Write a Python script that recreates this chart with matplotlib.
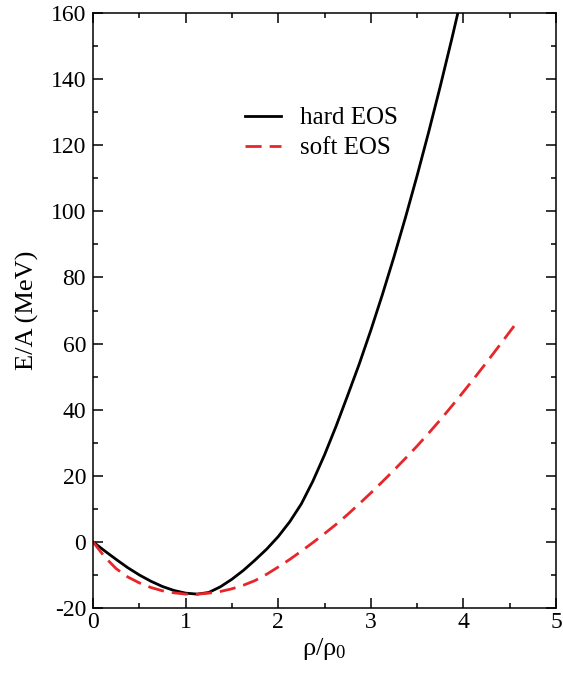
import matplotlib
matplotlib.use("Agg")
import matplotlib.pyplot as plt
from matplotlib.ticker import MultipleLocator

plt.rcParams['font.family'] = ['Liberation Serif', 'DejaVu Serif']
plt.rcParams['mathtext.default'] = 'regular'
plt.rcParams['axes.unicode_minus'] = False

# values
rho_hard = [0, 0.125, 0.25, 0.375, 0.5, 0.625, 0.75, 0.875, 1.0, 1.125,
            1.25, 1.375, 1.5, 1.625, 1.75, 1.875, 2.0, 2.125, 2.25, 2.375,
            2.5, 2.625, 2.75, 2.875, 3.0, 3.125, 3.25, 3.375, 3.5, 3.625,
            3.75, 3.875, 3.94]
e_hard = [0, -2.7, -5.3, -7.8, -10.0, -11.9, -13.5, -14.7, -15.5, -15.8,
          -15.3, -13.6, -11.3, -8.6, -5.5, -2.2, 1.6, 6.1, 11.5, 18.4,
          26.3, 35.0, 44.3, 53.8, 64.0, 74.8, 86.2, 98.2, 110.8, 124.0,
          137.8, 152.2, 160]

rho_soft = [0, 0.125, 0.25, 0.375, 0.5, 0.625, 0.75, 0.875, 1.0, 1.125,
            1.25, 1.375, 1.5, 1.625, 1.75, 1.875, 2.0, 2.125, 2.25, 2.375,
            2.5, 2.625, 2.75, 2.875, 3.0, 3.125, 3.25, 3.375, 3.5, 3.625,
            3.75, 3.875, 4.0, 4.125, 4.25, 4.375, 4.55]
e_soft = [0, -4.5, -8.1, -10.6, -12.4, -13.8, -14.8, -15.4, -15.8, -15.8,
          -15.5, -15.0, -14.2, -13.1, -11.7, -9.8, -7.6, -5.3, -2.8, -0.2,
          2.5, 5.3, 8.3, 11.5, 14.8, 18.2, 21.7, 25.3, 29.0, 32.9,
          36.9, 41.1, 45.4, 49.8, 54.3, 58.9, 65.4]

fig = plt.figure(figsize=(5.63, 6.77), dpi=100)
ax = fig.add_axes([93 / 563, 69 / 677, 463 / 563, 595 / 677])

ax.plot(rho_hard, e_hard, color='black', lw=2.0, label='hard EOS')
ax.plot(rho_soft, e_soft, color='#e8262a', lw=2.0, dashes=(5.8, 2.9),
        label='soft EOS')

ax.set_xlim(0, 5)
ax.set_ylim(-20, 160)
ax.xaxis.set_major_locator(MultipleLocator(1))
ax.xaxis.set_minor_locator(MultipleLocator(0.5))
ax.yaxis.set_major_locator(MultipleLocator(20))
ax.yaxis.set_minor_locator(MultipleLocator(10))
ax.tick_params(which='both', direction='in', top=True, right=True,
               labelsize=17, width=1.1)
ax.tick_params(axis='x', pad=3)
ax.tick_params(axis='y', pad=5)
ax.tick_params(which='major', length=7)
ax.tick_params(which='minor', length=3.6)
for s in ax.spines.values():
    s.set_linewidth(1.1)

ax.set_xlabel('ρ/ρ$_0$', fontsize=19, labelpad=2)
ax.set_ylabel('E/A (MeV)', fontsize=19, labelpad=8)

ax.legend(loc='upper left', bbox_to_anchor=(0.28, 0.88), frameon=False,
          fontsize=18, handlelength=1.45, handletextpad=0.75,
          labelspacing=0.3)

fig.savefig('out.png', dpi=100)
